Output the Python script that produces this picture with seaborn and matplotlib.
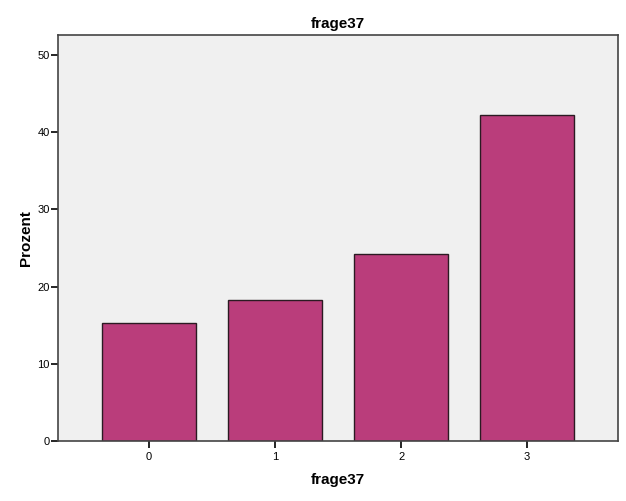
import matplotlib
matplotlib.use("Agg")
import matplotlib.pyplot as plt
import seaborn as sns
import pandas as pd

# values
categories = ["0", "1", "2", "3"]
prozent = [15.3, 18.3, 24.2, 42.2]

df = pd.DataFrame({"frage37": categories, "Prozent": prozent})

sns.set_style("ticks")
plt.rcParams['font.family'] = ['Liberation Sans', 'DejaVu Sans']
plt.rcParams['text.color'] = 'black'
plt.rcParams['axes.labelcolor'] = 'black'
plt.rcParams['xtick.color'] = 'black'
plt.rcParams['ytick.color'] = 'black'

fig = plt.figure(figsize=(6.26, 5.01), dpi=100)
ax = fig.add_axes([0.0927, 0.1198, 0.8945, 0.8102])
ax.set_facecolor('#F0F0F0')

sns.barplot(data=df, x="frage37", y="Prozent", color='#BA3D7B', saturation=1,
            width=0.75, edgecolor='#2B1A22', linewidth=1.0, ax=ax)

ax.set_xlim(-0.72, 3.72)
ax.set_ylim(0, 52.6)
ax.set_yticks([0, 10, 20, 30, 40, 50])

for s in ax.spines.values():
    s.set_color('#444444')
    s.set_linewidth(1.2)

ax.tick_params(axis='both', labelsize=8, length=5, width=1.2, colors='black', direction='out')
ax.tick_params(axis='y', pad=1)
ax.tick_params(axis='x', pad=3)

ax.set_title("frage37", fontsize=11, fontweight='bold', pad=5, color='black')
ax.set_xlabel("frage37", fontsize=11, fontweight='bold', labelpad=8, color='black')
ax.set_ylabel("Prozent", fontsize=11, fontweight='bold', labelpad=3, color='black')

fig.savefig("out.png", dpi=100, facecolor='white')
